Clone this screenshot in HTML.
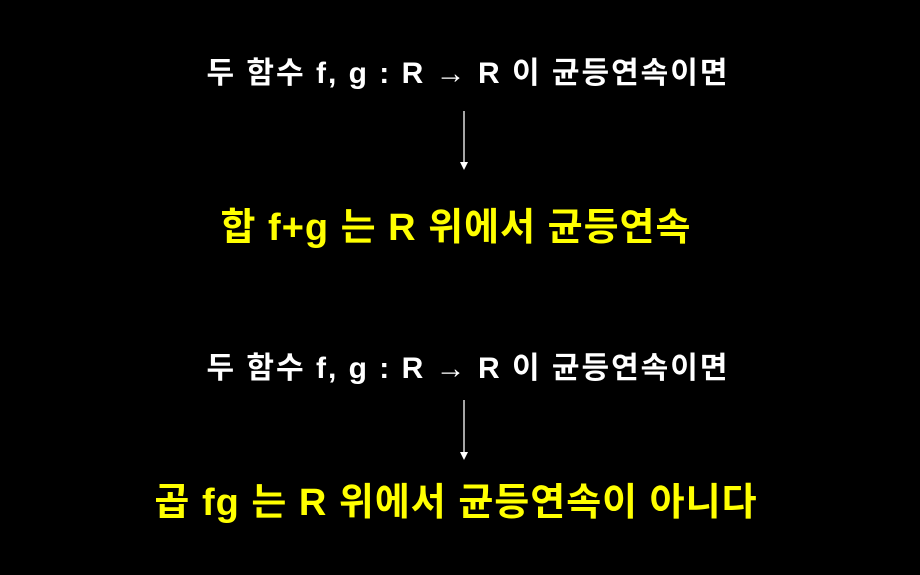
<!DOCTYPE html>
<html><head><meta charset="utf-8"><style>
html,body{margin:0;padding:0;background:#000;width:920px;height:575px;overflow:hidden}
.t{position:absolute;left:0;width:920px;text-align:center;font-family:"Liberation Sans","Noto Sans CJK KR",sans-serif;font-weight:bold;white-space:nowrap;line-height:1}
.w{color:#fff;font-size:30px;letter-spacing:2px}
.y{color:#ffff00;font-size:38px;letter-spacing:1px}
</style></head><body>
<div class="t w" style="top:59px;left:8px">두 함수 f, g : R → R 이 균등연속이면</div>
<div class="t y" style="top:209px;left:-4px">합 f+g 는 R 위에서 균등연속</div>
<div class="t w" style="top:354px;left:8px">두 함수 f, g : R → R 이 균등연속이면</div>
<div class="t y" style="top:484px;left:-4px">곱 fg 는 R 위에서 균등연속이 아니다</div>
<svg width="920" height="575" style="position:absolute;left:0;top:0">
<line x1="464" y1="111" x2="464" y2="163" stroke="#fff" stroke-width="1.3"/>
<polygon points="460,162 468,162 464,170" fill="#fff"/>
<line x1="464" y1="400" x2="464" y2="453" stroke="#fff" stroke-width="1.3"/>
<polygon points="460,452 468,452 464,460" fill="#fff"/>
</svg>
</body></html>
